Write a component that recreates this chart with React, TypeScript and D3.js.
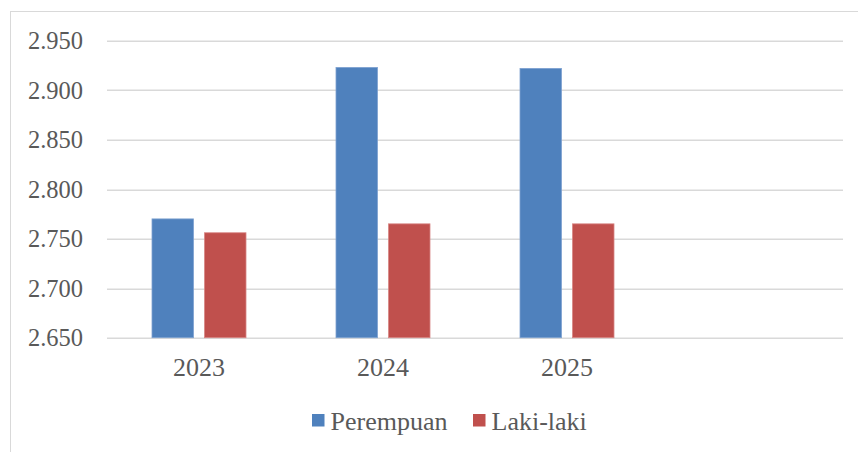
import React, { useEffect, useRef } from 'react';
import * as d3 from 'd3';

// Data
const categories = ['2023', '2024', '2025', ''];
const seriesNames = ['Perempuan', 'Laki-laki'];
const perempuan = [2770, 2923, 2922];
const lakiLaki = [2756, 2765, 2765];
const yTicks = [2650, 2700, 2750, 2800, 2850, 2900, 2950];

const colors = ['#4f81bd', '#c0504d'];

const App = () => {
  const ref = useRef<SVGSVGElement | null>(null);

  useEffect(() => {
    const width = 858;
    const height = 452;
    const margin = { top: 40.7, right: 15, bottom: 114.3, left: 107 };
    const chartWidth = width - margin.left - margin.right;
    const chartHeight = height - margin.top - margin.bottom;
    const font = '"Liberation Serif", serif';
    const textColor = '#595959';

    const svg = d3.select(ref.current);
    svg.selectAll('*').remove();

    // chart frame (runs off the right and bottom of the picture)
    svg
      .append('rect')
      .attr('x', 10.5)
      .attr('y', 11.5)
      .attr('width', 1000)
      .attr('height', 1000)
      .attr('fill', 'none')
      .attr('stroke', '#d9d9d9');

    const chart = svg
      .append('g')
      .attr('transform', `translate(${margin.left}, ${margin.top})`);

    const xScale = d3.scaleBand().domain(categories).range([0, chartWidth]);
    const xInner = d3
      .scaleBand()
      .domain(seriesNames)
      .range([45, xScale.bandwidth() - 45])
      .paddingInner(0.21);

    const yScale = d3.scaleLinear().domain([2650, 2950]).range([chartHeight, 0]);

    const locale = d3.formatLocale({
      decimal: ',',
      thousands: '.',
      grouping: [3],
      currency: ['Rp', ''],
    });
    const fmt = locale.format(',');

    // gridlines
    chart
      .selectAll('.grid')
      .data(yTicks)
      .enter()
      .append('line')
      .attr('x1', 0)
      .attr('x2', chartWidth)
      .attr('y1', (d) => Math.round(yScale(d)) + 0.5)
      .attr('y2', (d) => Math.round(yScale(d)) + 0.5)
      .attr('stroke', '#d9d9d9')
      .attr('stroke-width', 1.5);

    // y tick labels
    chart
      .selectAll('.ylabel')
      .data(yTicks)
      .enter()
      .append('text')
      .attr('x', -24)
      .attr('y', (d) => yScale(d))
      .attr('dy', '0.35em')
      .attr('text-anchor', 'end')
      .attr('font-family', font)
      .attr('font-size', 24.5)
      .attr('fill', textColor)
      .text((d) => fmt(d));

    // x labels
    chart
      .selectAll('.xlabel')
      .data(categories)
      .enter()
      .append('text')
      .attr('x', (d) => (xScale(d) as number) + xScale.bandwidth() / 2)
      .attr('y', chartHeight + 38)
      .attr('text-anchor', 'middle')
      .attr('font-family', font)
      .attr('font-size', 26)
      .attr('fill', textColor)
      .text((d) => d);

    // bars
    const series = [perempuan, lakiLaki];
    series.forEach((values, si) => {
      chart
        .selectAll(`.bar-${si}`)
        .data(values)
        .enter()
        .append('rect')
        .attr('x', (_, i) => (xScale(categories[i]) as number) + (xInner(seriesNames[si]) as number))
        .attr('y', (d) => yScale(d))
        .attr('width', xInner.bandwidth())
        .attr('height', (d) => chartHeight - yScale(d))
        .attr('fill', colors[si])
        .attr('stroke', si === 0 ? '#7ea1d0' : '#d88684')
        .attr('stroke-width', 0.8);
    });

    // legend
    const legendItems = [
      { name: seriesNames[0], x: 312 },
      { name: seriesNames[1], x: 473 },
    ];
    const legend = svg.append('g');
    legendItems.forEach((item, i) => {
      legend
        .append('rect')
        .attr('x', item.x)
        .attr('y', 414)
        .attr('width', 12.5)
        .attr('height', 12.5)
        .attr('fill', colors[i]);
      legend
        .append('text')
        .attr('x', item.x + 18.5)
        .attr('y', 429.5)
        .attr('font-family', font)
        .attr('font-size', 26)
        .attr('fill', textColor)
        .text(item.name);
    });
  }, []);

  return (
    <svg
      ref={ref}
      width={858}
      height={452}
      style={{ position: 'absolute', left: 0, top: 0, background: '#fff' }}
    />
  );
};

export default App;
